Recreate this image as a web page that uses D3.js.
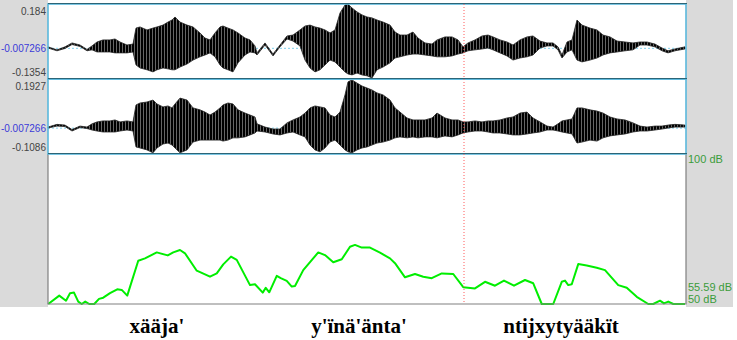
<!DOCTYPE html>
<html lang="en">
<head>
  <meta charset="UTF-8">
  <title>Sound + intensity</title>
  <script src="https://d3js.org/d3.v7.min.js"></script>
  <style>
    body {
      margin: 0;
      padding: 0;
      background-color: #ffffff;
    }
    .ylab text {
      font-family: "Liberation Sans", Arial, sans-serif;
      font-size: 10px;
      fill: #444;
    }
    .dblab text {
      font-family: "Liberation Sans", Arial, sans-serif;
      font-size: 11px;
      fill: #3a9c3a;
    }
    .word {
      font-family: "Liberation Serif", "Times New Roman", serif;
      font-weight: bold;
      font-size: 21px;
      fill: #000;
    }
  </style>
</head>
<body>
  <div id="chart"></div>

  <script>
    // Time axis (seconds) and sample points of the waveform envelopes
    const duration = 2.552;
    const waveTime = [
      0.000, 0.036, 0.068, 0.096, 0.128, 0.156, 0.176, 0.196, 0.220, 0.248,
      0.268, 0.288, 0.316, 0.340, 0.352, 0.368, 0.396, 0.420, 0.436, 0.460,
      0.480, 0.496, 0.508, 0.528, 0.556, 0.580, 0.608, 0.628, 0.648, 0.668,
      0.688, 0.700, 0.720, 0.740, 0.760, 0.788, 0.808, 0.828, 0.836, 0.868,
      0.900, 0.928, 0.956, 0.980, 1.008, 1.028, 1.048, 1.068, 1.088, 1.108,
      1.128, 1.148, 1.168, 1.188, 1.200, 1.216, 1.236, 1.256, 1.276, 1.296,
      1.316, 1.340, 1.368, 1.388, 1.408, 1.436, 1.460, 1.480, 1.508, 1.536,
      1.556, 1.588, 1.616, 1.640, 1.660, 1.680, 1.708, 1.736, 1.760, 1.780,
      1.808, 1.836, 1.860, 1.888, 1.916, 1.940, 1.968, 1.996, 2.020, 2.040,
      2.056, 2.076, 2.096, 2.116, 2.136, 2.168, 2.196, 2.220, 2.248, 2.276,
      2.308, 2.340, 2.368, 2.396, 2.428, 2.456, 2.480, 2.508, 2.548
    ];

    // channel 1: upper / lower envelope
    const ch1Upper = [
      -0.001, -0.014, -0.001, 0.016, 0.007, -0.012, 0.003, 0.020, 0.029, 0.029,
      0.033, 0.020, 0.007, 0.011, 0.080, 0.085, 0.072, 0.080, 0.085, 0.093,
      0.106, 0.115, 0.128, 0.106, 0.093, 0.085, 0.059, 0.037, 0.029, 0.059,
      0.085, 0.089, 0.080, 0.072, 0.059, 0.037, 0.029, 0.003, -0.027, 0.016,
      -0.032, 0.007, 0.046, 0.050, 0.072, 0.089, 0.093, 0.085, 0.080, 0.072,
      0.059, 0.072, 0.145, 0.180, 0.184, 0.167, 0.150, 0.137, 0.128, 0.124,
      0.115, 0.106, 0.093, 0.063, 0.050, 0.050, 0.063, 0.037, 0.016, 0.011,
      0.029, 0.042, 0.042, 0.029, -0.001, 0.016, 0.029, 0.046, 0.050, 0.042,
      0.029, 0.020, 0.007, 0.029, 0.042, 0.046, 0.024, 0.016, 0.016, -0.001,
      -0.036, 0.020, 0.029, 0.115, 0.093, 0.080, 0.072, 0.050, 0.042, 0.024,
      0.020, 0.016, 0.020, 0.020, 0.011, -0.006, -0.018, -0.010, -0.001
    ];
    const ch1Lower = [
      -0.006, -0.018, -0.008, 0.009, 0.001, -0.018, -0.014, -0.023, -0.023, -0.023,
      -0.027, -0.027, -0.027, -0.023, -0.079, -0.092, -0.100, -0.109, -0.100, -0.092,
      -0.096, -0.100, -0.100, -0.088, -0.075, -0.058, -0.044, -0.036, -0.027, -0.044,
      -0.079, -0.092, -0.100, -0.109, -0.070, -0.036, -0.023, -0.027, -0.036, 0.007,
      -0.040, -0.001, 0.033, 0.024, 0.003, -0.058, -0.092, -0.109, -0.100, -0.079,
      -0.058, -0.066, -0.088, -0.109, -0.118, -0.122, -0.114, -0.122, -0.126, -0.135,
      -0.100, -0.088, -0.070, -0.049, -0.044, -0.036, -0.032, -0.032, -0.036, -0.040,
      -0.044, -0.044, -0.040, -0.032, -0.027, -0.018, -0.014, -0.010, -0.006, -0.014,
      -0.027, -0.040, -0.058, -0.049, -0.044, -0.036, -0.006, 0.003, 0.003, -0.014,
      -0.049, -0.023, -0.014, -0.058, -0.066, -0.058, -0.049, -0.036, -0.027, -0.023,
      -0.018, -0.014, 0.007, 0.007, -0.001, -0.018, -0.027, -0.018, -0.010
    ];

    // channel 2: upper / lower envelope
    const ch2Upper = [
      -0.003, 0.008, 0.005, -0.013, 0.001, -0.003, 0.010, 0.018, 0.022, 0.022,
      0.026, 0.018, 0.022, 0.018, 0.087, 0.095, 0.099, 0.107, 0.091, 0.079,
      0.083, 0.075, 0.091, 0.115, 0.107, 0.075, 0.067, 0.058, 0.046, 0.058,
      0.075, 0.087, 0.095, 0.091, 0.067, 0.054, 0.046, 0.038, 0.010, -0.003,
      -0.011, -0.011, 0.014, 0.026, 0.038, 0.054, 0.075, 0.083, 0.079, 0.075,
      0.046, 0.038, 0.058, 0.128, 0.181, 0.189, 0.176, 0.164, 0.156, 0.148,
      0.136, 0.128, 0.107, 0.075, 0.058, 0.034, 0.026, 0.026, 0.026, 0.034,
      0.054, 0.034, 0.026, 0.026, 0.018, 0.018, 0.022, 0.018, 0.022, 0.022,
      0.026, 0.034, 0.038, 0.054, 0.058, 0.034, 0.018, 0.001, -0.003, 0.010,
      0.022, 0.026, 0.030, 0.075, 0.075, 0.067, 0.062, 0.054, 0.038, 0.030,
      0.026, 0.014, 0.001, -0.003, 0.001, 0.001, 0.005, 0.008, 0.005
    ];
    const ch2Lower = [
      -0.007, 0.001, -0.001, -0.019, -0.005, -0.009, -0.015, -0.019, -0.023, -0.023,
      -0.023, -0.019, -0.015, -0.019, -0.084, -0.088, -0.096, -0.108, -0.088, -0.072,
      -0.068, -0.076, -0.088, -0.108, -0.096, -0.064, -0.056, -0.056, -0.056, -0.056,
      -0.056, -0.060, -0.056, -0.047, -0.047, -0.043, -0.035, -0.027, -0.019, -0.023,
      -0.031, -0.035, -0.027, -0.023, -0.035, -0.043, -0.076, -0.096, -0.104, -0.088,
      -0.064, -0.056, -0.076, -0.096, -0.104, -0.108, -0.096, -0.088, -0.084, -0.076,
      -0.068, -0.064, -0.056, -0.047, -0.043, -0.047, -0.043, -0.047, -0.043, -0.043,
      -0.047, -0.039, -0.043, -0.035, -0.027, -0.023, -0.019, -0.019, -0.023, -0.027,
      -0.027, -0.031, -0.035, -0.035, -0.031, -0.027, -0.023, -0.015, -0.015, -0.019,
      -0.023, -0.027, -0.031, -0.068, -0.064, -0.056, -0.060, -0.047, -0.039, -0.035,
      -0.031, -0.023, -0.019, -0.019, -0.015, -0.011, -0.007, -0.003, -0.003
    ];

    // intensity contour (s, dB)
    const intTime = [
      0.001, 0.045, 0.072, 0.088, 0.104, 0.121, 0.135, 0.149, 0.165, 0.185,
      0.204, 0.221, 0.248, 0.277, 0.295, 0.317, 0.361, 0.388, 0.435, 0.479,
      0.501, 0.528, 0.548, 0.595, 0.648, 0.675, 0.701, 0.732, 0.755, 0.808,
      0.828, 0.859, 0.871, 0.885, 0.915, 0.931, 0.955, 0.975, 0.988, 1.021,
      1.081, 1.108, 1.141, 1.175, 1.208, 1.228, 1.255, 1.288, 1.328, 1.368,
      1.388, 1.428, 1.468, 1.501, 1.535, 1.575, 1.621, 1.661, 1.708, 1.748,
      1.788, 1.824, 1.864, 1.908, 1.941, 1.975, 2.021, 2.055, 2.068, 2.081,
      2.095, 2.121, 2.155, 2.195, 2.228, 2.281, 2.315, 2.355, 2.401, 2.421,
      2.448, 2.464, 2.481, 2.501, 2.548
    ];
    const intDb = [
      50.0, 52.8, 51.1, 53.6, 53.8, 50.8, 50.0, 50.8, 50.0, 50.0,
      51.7, 52.1, 53.6, 54.9, 54.7, 52.8, 64.4, 65.2, 67.2, 66.2,
      67.2, 68.0, 66.9, 61.1, 59.1, 60.2, 63.2, 65.8, 64.7, 56.3,
      56.6, 53.8, 55.4, 53.9, 59.4, 58.6, 57.7, 55.8, 56.0, 61.3,
      67.2, 66.3, 63.9, 64.9, 69.1, 69.7, 68.8, 68.8, 67.1, 65.2,
      63.6, 58.9, 60.0, 59.1, 58.6, 60.2, 60.0, 55.6, 55.2, 57.4,
      56.1, 57.8, 56.1, 58.0, 56.9, 50.0, 50.0, 57.4, 57.8, 56.3,
      56.6, 63.3, 62.8, 62.1, 61.3, 56.3, 55.4, 52.4, 50.0, 50.0,
      51.1, 50.2, 50.8, 50.0, 50.0
    ];

    // tick labels
    const ch1Ticks = [0.184, -0.1354];
    const ch2Ticks = [0.1927, -0.1086];
    const zeroLevel = -0.007266;
    const dbTicks = [100, 55.59, 50];
    const cursorTime = 1.664;

    // words on the tier below
    const words = ["xääja'", "y'ïnä'änta'", "ntijxytyääkït"];
    const wordTime = [0.436, 1.244, 2.052];

    const width = 737;
    const height = 340;
    const left = 48, right = 686;
    const p1 = [4, 79], p2 = [79, 154], p3 = [154, 304];

    const svg = d3.select('#chart')
      .append('svg')
      .attr('width', width)
      .attr('height', height);

    // stripe pattern so the envelopes read like dense oscillation
    const defs = svg.append('defs');
    const pat = defs.append('pattern')
      .attr('id', 'osc')
      .attr('patternUnits', 'userSpaceOnUse')
      .attr('width', 3).attr('height', 4);
    pat.append('rect').attr('width', 3).attr('height', 4).attr('fill', '#666');
    pat.append('rect').attr('width', 2).attr('height', 4).attr('fill', '#000');

    // grey margins
    svg.append('rect').attr('x', 0).attr('y', 0).attr('width', left).attr('height', 307).attr('fill', '#dadada');
    svg.append('rect').attr('x', right).attr('y', 0).attr('width', 733 - right).attr('height', 307).attr('fill', '#dadada');
    svg.append('rect').attr('x', left).attr('y', 0).attr('width', right - left).attr('height', 307).attr('fill', '#fff');

    const x = d3.scaleLinear().domain([0, duration]).range([left, right]);
    const y1 = d3.scaleLinear().domain([ch1Ticks[1], ch1Ticks[0]]).range([p1[1] - 1, p1[0]]);
    const y2 = d3.scaleLinear().domain([ch2Ticks[1], ch2Ticks[0]]).range([p2[1] - 1, p2[0]]);
    const yI = d3.scaleLinear().domain([50, 100]).range([p3[1], p3[0]]).clamp(true);

    // zero lines
    [y1, y2].forEach(ys => {
      svg.append('line')
        .attr('x1', left).attr('x2', right)
        .attr('y1', ys(zeroLevel)).attr('y2', ys(zeroLevel))
        .attr('stroke', '#7fd0ec').attr('stroke-width', 1)
        .attr('stroke-dasharray', '2,2');
    });

    // waveform envelopes
    function drawWave(ys, up, lo) {
      const pts = waveTime.map((t, i) => ({ t, u: up[i], l: lo[i] }));
      const area = d3.area()
        .x(d => x(d.t))
        .y0(d => ys(d.l))
        .y1(d => ys(d.u));
      svg.append('path')
        .datum(pts)
        .attr('d', area)
        .attr('fill', 'url(#osc)')
        .attr('stroke', '#222')
        .attr('stroke-width', 0.8)
        .attr('stroke-linejoin', 'round');
    }
    drawWave(y1, ch1Upper, ch1Lower);
    drawWave(y2, ch2Upper, ch2Lower);

    // intensity
    const intPts = intTime.map((t, i) => ({ t, v: intDb[i] }));
    svg.append('path')
      .datum(intPts)
      .attr('d', d3.line().x(d => x(d.t)).y(d => yI(d.v)))
      .attr('fill', 'none')
      .attr('stroke', '#00ee00')
      .attr('stroke-width', 2)
      .attr('stroke-linejoin', 'round');

    // frames
    svg.append('path')
      .attr('d', `M${left},${p3[0]}V${p3[1]}H${right}V${p3[0]}`)
      .attr('fill', 'none').attr('stroke', '#808080').attr('stroke-width', 1.2);
    [p1, p2].forEach(p => {
      svg.append('rect')
        .attr('x', left).attr('y', p[0])
        .attr('width', right - left).attr('height', p[1] - p[0])
        .attr('fill', 'none').attr('stroke', '#5ab8dd').attr('stroke-width', 1.6);
      svg.append('line').attr('x1', left).attr('x2', right + 1)
        .attr('y1', p[0] - 0.5).attr('y2', p[0] - 0.5)
        .attr('stroke', '#2c6577').attr('stroke-width', 1.2);
    });
    svg.append('line').attr('x1', left).attr('x2', right + 1)
      .attr('y1', p2[1] - 0.5).attr('y2', p2[1] - 0.5)
      .attr('stroke', '#2c6577').attr('stroke-width', 1.2);

    // cursor
    svg.append('line')
      .attr('x1', x(cursorTime)).attr('x2', x(cursorTime))
      .attr('y1', p1[0]).attr('y2', p3[1])
      .attr('stroke', '#ff5a5a').attr('stroke-width', 1)
      .attr('stroke-dasharray', '1,2');

    // left tick labels
    function leftAxis(ys, ticks) {
      const g = svg.append('g')
        .attr('class', 'ylab')
        .attr('transform', `translate(${left - 1},0)`)
        .call(d3.axisLeft(ys).tickValues(ticks.concat([zeroLevel])).tickSize(0).tickPadding(1)
          .tickFormat(d => String(d)));
      g.select('.domain').remove();
      g.selectAll('.tick text')
        .attr('dy', d => d === ticks[0] ? '1.0em' : d === ticks[1] ? '-0.25em' : '0.32em')
        .style('fill', d => d === zeroLevel ? '#3a3ad8' : '#444');
    }
    leftAxis(y1, ch1Ticks);
    leftAxis(y2, ch2Ticks);

    // right dB labels
    const gdb = svg.append('g')
      .attr('class', 'dblab')
      .attr('transform', `translate(${right},0)`)
      .call(d3.axisRight(yI).tickValues(dbTicks).tickSize(0).tickPadding(2)
        .tickFormat(d => d + ' dB'));
    gdb.select('.domain').remove();
    gdb.selectAll('.tick text')
      .attr('dy', d => d === 100 ? '0.8em' : d === 50 ? '-0.1em' : '0.32em');

    // words
    svg.selectAll('.word')
      .data(words)
      .enter()
      .append('text')
      .attr('class', 'word')
      .attr('x', (d, i) => x(wordTime[i]))
      .attr('y', 333)
      .attr('text-anchor', 'middle')
      .text(d => d);
  </script>
</body>
</html>
